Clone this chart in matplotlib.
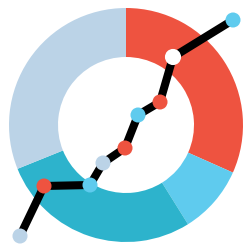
import numpy as np
import matplotlib
matplotlib.use('Agg')
import matplotlib.pyplot as plt

# donut segments (degrees, clockwise from top)
seg_sizes = [114, 34, 100, 112]
seg_colors = ['#EE5340', '#5FCBEE', '#2DB3CC', '#BBD3E7']

# line series
line_x = [20, 44, 90, 103, 125, 138, 160, 173, 233]
line_y = [10, 60, 61, 83, 98, 131, 144, 189, 226]
point_colors = ['#BBD3E7', '#EE5340', '#5FCBEE', '#BBD3E7', '#EE5340',
                '#5FCBEE', '#EE5340', '#FFFFFF', '#5FCBEE']
point_sizes = [117, 117, 117, 117, 117, 117, 117, 135, 117]

fig = plt.figure(figsize=(2.48, 2.46), dpi=100)
ax = fig.add_axes([0, 0, 1, 1])

ax.pie(seg_sizes, colors=seg_colors, startangle=90, counterclock=False,
       radius=117, center=(126, 121),
       wedgeprops={'width': 49, 'linewidth': 0})

ax.plot(line_x, line_y, c='black', linewidth=5.8, solid_capstyle='butt',
        solid_joinstyle='miter', zorder=3)
ax.scatter(line_x, line_y, s=point_sizes, c=point_colors, linewidths=0,
           zorder=4)

ax.set_xlim(0, 248)
ax.set_ylim(0, 246)
ax.set_aspect('equal')
ax.axis('off')
fig.savefig('out.png', dpi=100)
